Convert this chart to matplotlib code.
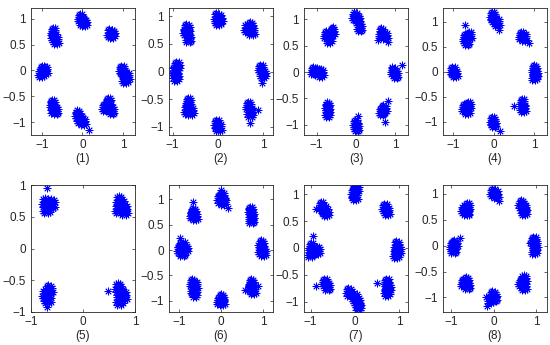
import numpy as np
import matplotlib.pyplot as plt

plt.rcParams['font.family'] = ['Liberation Sans', 'DejaVu Sans']

# small fixed jitter pattern used around every sub-blob centre (hand typed)
jitter = [(0.0, 0.0), (0.055, 0.025), (-0.04, 0.055), (0.025, -0.065), (-0.065, -0.025),
          (0.065, -0.04), (-0.015, 0.075), (-0.05, -0.065), (0.04, 0.065), (-0.025, -0.025),
          (0.03, 0.0), (-0.03, 0.02)]

# sub-blob centres for each panel
blobs_1 = [(-0.05, 1.02), (0.0, 0.95), (0.05, 0.92),
           (-0.72, 0.75), (-0.7, 0.65), (-0.65, 0.58),
           (0.68, 0.72), (0.74, 0.70),
           (-0.98, 0.02), (-1.02, -0.06), (-0.92, 0.0),
           (0.98, 0.02), (1.02, -0.05), (1.1, -0.12), (1.05, -0.18),
           (-0.74, -0.64), (-0.72, -0.75), (-0.66, -0.78),
           (-0.06, -0.95), (0.02, -1.0), (-0.12, -0.85),
           (0.65, -0.6), (0.55, -0.72), (0.72, -0.78), (0.62, -0.7)]
extra_1 = [(0.16, -1.16)]

blobs_2 = [(-0.02, 0.98), (0.04, 0.95), (0.0, 0.9),
           (-0.7, 0.72), (-0.65, 0.6), (-0.68, 0.78),
           (0.65, 0.78), (0.75, 0.72), (0.72, 0.82),
           (-0.95, 0.0), (-0.9, 0.1), (-0.92, -0.1),
           (0.95, 0.05), (1.0, -0.05),
           (-0.65, -0.55), (-0.68, -0.7), (-0.6, -0.72),
           (-0.02, -0.95), (0.02, -1.02),
           (0.68, -0.62), (0.72, -0.75)]
extra_2 = [(0.98, -0.21), (0.88, -0.7), (0.72, -0.93)]

blobs_3 = [(-0.02, 1.05), (0.05, 1.0), (0.1, 0.84),
           (-0.75, 0.7), (-0.6, 0.75), (-0.68, 0.62),
           (0.65, 0.75), (0.75, 0.68),
           (-0.98, 0.0), (-0.88, -0.02), (-1.08, 0.02),
           (0.95, 0.02), (1.02, -0.05),
           (-0.72, -0.65), (-0.72, -0.78),
           (0.0, -0.98), (0.02, -1.05),
           (0.72, -0.7), (0.66, -0.75)]
extra_3 = [(-0.58, 0.86), (0.57, 0.6), (0.82, 0.56), (1.18, 0.14),
           (0.05, -0.83), (0.82, -0.55), (0.75, -0.95), (0.62, -0.77)]

blobs_4 = [(-0.02, 1.12), (0.0, 1.05), (0.08, 0.98),
           (-0.7, 0.68), (-0.6, 0.72), (-0.66, 0.6),
           (0.68, 0.72), (0.75, 0.68),
           (-1.0, 0.02), (-0.95, -0.05),
           (1.0, 0.05), (1.03, -0.05), (1.0, -0.1),
           (-0.72, -0.72), (-0.62, -0.68), (-0.65, -0.78),
           (-0.02, -0.98), (0.0, -1.05),
           (0.7, -0.62), (0.72, -0.75)]
extra_4 = [(0.12, 0.83), (-0.7, 0.94), (0.88, 0.57), (0.15, -1.18), (0.49, -0.69)]

blobs_5 = [(-0.72, 0.72), (-0.65, 0.68), (-0.7, 0.62), (-0.6, 0.7),
           (0.7, 0.75), (0.75, 0.68), (0.8, 0.6), (0.68, 0.62),
           (-0.72, -0.72), (-0.65, -0.65), (-0.68, -0.8),
           (0.72, -0.7), (0.68, -0.62), (0.78, -0.75), (0.7, -0.82)]
extra_5 = [(-0.7, 0.95), (-0.7, -0.92), (0.49, -0.67)]

blobs_6 = [(-0.03, 1.0), (0.02, 1.05), (0.05, 0.95),
           (-0.68, 0.7), (-0.62, 0.65), (-0.66, 0.75),
           (0.7, 0.78), (0.72, 0.68), (0.72, 0.6),
           (-0.98, 0.0), (-0.92, -0.05), (-0.95, 0.08), (-0.85, 0.02),
           (0.95, 0.12), (0.95, -0.02), (1.0, -0.05),
           (-0.68, -0.65), (-0.62, -0.7), (-0.66, -0.78), (-0.63, -0.85),
           (0.0, -0.95), (0.02, -1.02), (-0.04, -1.0),
           (0.72, -0.65), (0.7, -0.75), (0.75, -0.8)]
extra_6 = [(0.0, 1.19), (0.15, 0.82), (-0.68, 0.95), (-0.98, 0.23), (-0.87, 0.16),
           (0.56, -0.79), (0.88, -0.71)]

blobs_7 = [(-0.02, 1.02), (0.0, 0.95), (0.03, 1.1),
           (-0.7, 0.72), (-0.65, 0.65), (-0.75, 0.78),
           (0.68, 0.75), (0.72, 0.68),
           (-0.98, 0.02), (-0.92, -0.05), (-0.85, -0.05), (-1.0, -0.1),
           (0.95, 0.05), (0.98, -0.05), (0.93, -0.12),
           (-0.68, -0.65), (-0.62, -0.72),
           (-0.13, -0.82), (0.0, -0.92), (0.05, -1.0), (0.08, -1.08),
           (0.72, -0.65), (0.75, -0.75), (0.72, -0.82)]
extra_7 = [(-0.87, 0.73), (-0.95, 0.23), (-0.87, -0.7), (0.51, -0.66)]

blobs_8 = [(-0.02, 1.02), (0.05, 0.98),
           (-0.7, 0.7), (-0.62, 0.75), (-0.65, 0.65),
           (0.65, 0.8), (0.72, 0.72), (0.72, 0.65),
           (-0.98, 0.0), (-0.95, -0.08), (-0.92, 0.03),
           (0.95, 0.1), (0.98, 0.02), (0.96, -0.1),
           (-0.72, -0.72), (-0.65, -0.68), (-0.62, -0.78),
           (-0.02, -0.95), (0.02, -1.0), (-0.08, -1.05),
           (0.65, -0.72), (0.72, -0.65), (0.72, -0.8)]
extra_8 = [(0.12, 0.86), (-0.58, 0.6), (-0.79, 0.15), (0.85, 0.05), (0.94, -0.13),
           (-0.16, -1.16), (-0.18, -1.0)]

blobs = [blobs_1, blobs_2, blobs_3, blobs_4, blobs_5, blobs_6, blobs_7, blobs_8]
extras = [extra_1, extra_2, extra_3, extra_4, extra_5, extra_6, extra_7, extra_8]

# axis limits per panel
xlims = [(-1.27, 1.3), (-1.08, 1.22), (-1.32, 1.33), (-1.245, 1.31),
         (-1.0, 1.0), (-1.24, 1.23), (-1.15, 1.2), (-1.2, 1.26)]
ylims = [(-1.25, 1.21), (-1.15, 1.15), (-1.19, 1.21), (-1.27, 1.27),
         (-1.0, 1.0), (-1.22, 1.28), (-1.19, 1.17), (-1.28, 1.17)]
labels = ['(1)', '(2)', '(3)', '(4)', '(5)', '(6)', '(7)', '(8)']

fig = plt.figure(figsize=(5.5, 3.45), dpi=100)
lefts = [31, 169, 304, 443]
for k in range(8):
    r, c = divmod(k, 4)
    top = 8 if r == 0 else 185
    ax = fig.add_axes([lefts[c] / 550, 1 - (top + 127) / 345, 104 / 550, 127 / 345])
    pts = [(bx + dx, by + dy) for bx, by in blobs[k] for dx, dy in jitter] + extras[k]
    pts = np.array(pts)
    ax.plot(pts[:, 0], pts[:, 1], linestyle='none', marker=(8, 2, 0), markersize=5.5,
            markeredgecolor='#0000ff', markeredgewidth=0.6, color='#0000ff')
    ax.set_xlim(*xlims[k])
    ax.set_ylim(*ylims[k])
    ax.set_xticks([-1, 0, 1])
    ax.set_yticks([-1, -0.5, 0, 0.5, 1])
    ax.set_xticklabels(['\u22121', '0', '1'])
    ax.set_yticklabels(['\u22121', '\u22120.5', '0', '0.5', '1'])
    ax.tick_params(direction='in', length=2.5, width=0.5, top=True, right=True,
                   labelsize=8.5, pad=3, colors='#262626')
    ax.tick_params(axis='y', pad=3.5)
    for s in ax.spines.values():
        s.set_linewidth(0.6)
        s.set_color('#262626')
    ax.set_xlabel(labels[k], fontsize=8.5, labelpad=1.5, color='#262626')

fig.savefig('out.png', dpi=100)
